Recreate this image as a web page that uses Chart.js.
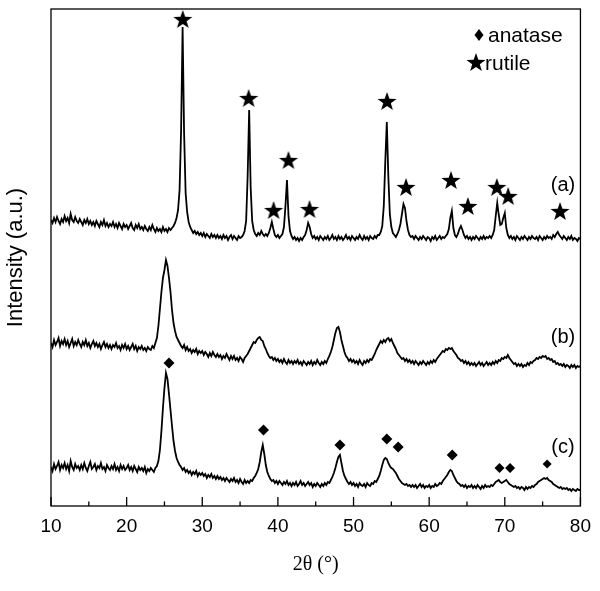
<!DOCTYPE html>
<html>
<head>
<meta charset="utf-8">
<script src="https://cdn.jsdelivr.net/npm/chart.js@4.4.0/dist/chart.umd.min.js"></script>
<style>
  body { margin: 0; background: #fff; }
  #xrd { display: block; }
</style>
</head>
<body>
<canvas id="xrd" width="600" height="591"></canvas>
<script>
// 2-theta grid, 10..80 deg in 0.2 deg steps
const twoTheta = Array.from({ length: 351 }, (_, i) => Math.round((10 + i * 0.2) * 10) / 10);

// intensities (a.u.), already stacked
const patternA = [
  286, 283, 288, 284, 289, 285, 282, 287, 284, 290,
  285, 288, 283, 292, 286, 284, 289, 285, 283, 287,
  284, 281, 286, 283, 287, 282, 285, 281, 284, 280,
  285, 282, 279, 284, 281, 286, 280, 283, 279, 282,
  280, 284, 279, 282, 278, 283, 280, 277, 282, 279,
  281, 277, 280, 283, 278, 276, 281, 278, 282, 277,
  279, 276, 280, 277, 275, 279, 276, 281, 277, 274,
  278, 275, 277, 274, 279, 275, 277, 274, 278, 276,
  278, 280, 283, 288, 296, 316, 375, 479, 372, 313,
  294, 284, 279, 276, 273, 275, 272, 274, 271, 273,
  270, 273, 269, 272, 270, 268, 272, 269, 271, 268,
  271, 268, 270, 267, 271, 268, 270, 266, 269, 271,
  267, 270, 268, 266, 270, 268, 269, 271, 275, 285,
  330, 396, 318, 285, 276, 272, 270, 273, 271, 275,
  272, 270, 272, 270, 273, 278, 284, 277, 271, 269,
  271, 268, 270, 272, 279, 300, 326, 290, 275, 270,
  267, 269, 266, 268, 265, 268, 266, 269, 271, 276,
  283, 279, 272, 268, 270, 267, 269, 266, 270, 268,
  266, 269, 267, 270, 266, 268, 271, 267, 269, 266,
  270, 267, 269, 266, 268, 271, 267, 269, 266, 270,
  268, 266, 269, 267, 271, 268, 266, 270, 267, 269,
  266, 270, 268, 267, 270, 268, 271, 271, 274, 280,
  300, 345, 384, 330, 292, 279, 273, 271, 269, 272,
  276, 282, 292, 302, 298, 285, 276, 271, 269, 270,
  267, 270, 268, 266, 269, 267, 270, 268, 266, 269,
  268, 265, 269, 267, 270, 266, 268, 270, 267, 269,
  268, 270, 272, 277, 288, 295, 278, 271, 269, 272,
  277, 280, 276, 271, 268, 270, 267, 269, 266, 269,
  267, 270, 268, 266, 269, 267, 270, 267, 269, 268,
  270, 268, 271, 276, 290, 303, 291, 281, 282, 288,
  293, 278, 271, 268, 270, 267, 269, 266, 270, 268,
  266, 269, 267, 270, 268, 266, 269, 267, 270, 268,
  267, 269, 266, 270, 268, 266, 269, 267, 270, 268,
  269, 267, 271, 269, 272, 274, 271, 269, 267, 270,
  268, 266, 269, 267, 270, 266, 268, 267, 265, 268,
  267
];

const patternB = [
  163, 159, 166, 161, 164, 168, 160, 165, 162, 167,
  161, 165, 159, 163, 167, 160, 164, 161, 166, 162,
  159, 164, 161, 166, 160, 163, 158, 162, 165, 160,
  163, 159, 162, 157, 161, 164, 159, 162, 158, 161,
  157, 161, 159, 163, 158, 160, 156, 161, 158, 162,
  157, 160, 156, 159, 162, 157, 160, 155, 159, 157,
  160, 156, 158, 155, 159, 157, 156, 160, 158, 163,
  168, 180, 197, 214, 228, 236, 246, 240, 228, 214,
  196, 183, 175, 169, 166, 163, 160, 158, 161, 156,
  159, 155, 157, 153, 156, 154, 157, 152, 155, 153,
  155, 151, 154, 152, 149, 153, 150, 154, 151, 149,
  152, 149, 151, 147, 150, 148, 152, 149, 146, 150,
  147, 150, 146, 148, 145, 149, 147, 144, 148, 150,
  152, 155, 158, 161, 164, 163, 166, 168, 169, 166,
  165, 160, 157, 153, 150, 148, 149, 146, 148, 145,
  147, 144, 146, 143, 147, 144, 142, 146, 143, 145,
  142, 145, 143, 146, 142, 144, 141, 145, 143, 141,
  144, 142, 145, 141, 144, 142, 146, 143, 141, 144,
  142, 145, 143, 147, 150, 154, 159, 166, 173, 178,
  179, 174, 166, 160, 154, 150, 148, 145, 147, 144,
  146, 143, 145, 142, 146, 143, 141, 145, 143, 146,
  144, 147, 146, 149, 152, 156, 159, 162, 165, 163,
  166, 164, 167, 168, 165, 167, 163, 160, 157, 153,
  151, 149, 147, 148, 145, 147, 144, 146, 143, 145,
  142, 145, 143, 141, 144, 142, 145, 143, 141, 144,
  142, 145, 143, 146, 144, 147, 149, 151, 153, 155,
  154, 157, 156, 158, 157, 158, 155, 153, 151, 148,
  147, 145, 146, 143, 145, 142, 144, 141, 143, 141,
  143, 140, 142, 144, 141, 143, 140, 142, 144, 141,
  143, 141, 144, 142, 145, 143, 146, 145, 148, 147,
  149, 148, 151, 148, 146, 144, 142, 143, 140, 142,
  140, 142, 139, 141, 140, 143, 141, 144, 143, 145,
  146, 148, 147, 149, 148, 150, 149, 150, 147, 148,
  146, 147, 144, 145, 142, 143, 141, 142, 140, 142,
  139, 141, 140, 138, 141, 139, 141, 138, 140, 139,
  140
];

const patternC = [
  39, 35, 42, 37, 40, 44, 36, 41, 38, 43,
  37, 41, 35, 45, 39, 36, 42, 38, 40, 36,
  41, 37, 43, 38, 35, 40, 44, 37, 39, 42,
  36, 40, 38, 43, 37, 39, 35, 41, 38, 36,
  40, 37, 42, 36, 39, 35, 41, 37, 40, 36,
  38, 41, 36, 39, 35, 40, 37, 34, 39, 36,
  38, 35, 39, 33, 37, 35, 38, 36, 34, 38,
  40, 45, 56, 75, 98, 118, 133, 127, 112, 96,
  80, 65, 55, 48, 44, 41, 39, 36, 38, 34,
  36, 33, 35, 31, 34, 32, 35, 30, 33, 31,
  33, 30, 32, 28, 31, 29, 32, 28, 30, 27,
  30, 27, 29, 26, 28, 25, 28, 26, 24, 27,
  25, 28, 24, 26, 23, 27, 24, 22, 26, 23,
  25, 23, 26, 25, 28, 30, 33, 37, 44, 54,
  61, 52, 41, 34, 30, 27, 25, 26, 23, 25,
  22, 25, 23, 21, 24, 22, 25, 21, 23, 20,
  23, 21, 24, 20, 22, 25, 21, 23, 20, 22,
  24, 21, 23, 19, 22, 20, 23, 21, 19, 22,
  20, 23, 21, 24, 23, 26, 29, 33, 38, 44,
  49, 51, 43, 35, 30, 27, 24, 22, 24, 21,
  23, 20, 22, 19, 23, 21, 20, 22, 19, 23,
  21, 20, 23, 22, 25, 24, 27, 30, 35, 41,
  46, 48, 47, 43, 40, 38, 37, 35, 33, 30,
  27, 25, 23, 22, 21, 22, 20, 21, 19, 21,
  19, 21, 18, 20, 22, 19, 21, 18, 20, 19,
  21, 18, 20, 19, 22, 20, 21, 23, 22, 25,
  27, 29, 31, 34, 36, 35, 31, 28, 25, 23,
  22, 20, 21, 19, 21, 18, 20, 19, 21, 18,
  20, 18, 21, 19, 17, 20, 18, 21, 19, 20,
  19, 21, 20, 22, 24, 25, 26, 24, 23, 24,
  25, 26, 24, 22, 21, 20, 19, 20, 18, 19,
  17, 19, 18, 16, 19, 17, 19, 18, 20, 19,
  21, 22, 24, 25, 26, 27, 28, 27, 28, 26,
  25, 24, 22, 21, 20, 19, 18, 19, 17, 18,
  17, 18, 16, 17, 15, 17, 16, 15, 17, 16,
  16
];

// phase markers (2theta, height)
const rutileX = [27.42, 36.13, 39.43, 41.4, 44.18, 54.43, 56.94, 62.88, 65.12, 68.95, 70.44, 77.3];
const rutileY = [486, 407, 295, 345, 296, 404, 318, 325, 299, 318, 309, 294];
const anataseX = [25.6, 38.1, 48.2, 54.4, 55.9, 63.05, 69.3, 70.7, 75.6];
const anataseY = [143, 76, 61, 67, 59, 51, 38, 38, 42];

const sampleLabels = ['(a)', '(b)', '(c)'];
const xTicks = [10, 20, 30, 40, 50, 60, 70, 80];

function makeStar(r) {
    const c = document.createElement('canvas');
    c.width = c.height = 2 * r + 2;
    const g = c.getContext('2d');
    g.beginPath();
    for (let k = 0; k < 10; k++) {
        const ang = -Math.PI / 2 + k * Math.PI / 5;
        const rad = k % 2 ? r * 0.4 : r;
        g.lineTo(c.width / 2 + rad * Math.cos(ang), c.height / 2 + rad * Math.sin(ang));
    }
    g.closePath();
    g.fillStyle = '#000';
    g.fill();
    return c;
}
const star = makeStar(10);

function toPoints(xs, ys) {
    return xs.map((x, i) => ({ x: x, y: ys[i] }));
}

const traceStyle = {
    type: 'line',
    borderColor: '#000',
    borderWidth: 1.8,
    pointRadius: 0,
    fill: false,
    tension: 0
};

// frame, inner ticks, legend, sample labels
const decorations = {
    id: 'decorations',
    afterDraw(chart) {
        const { ctx, chartArea: a, scales: { x } } = chart;
        ctx.save();
        ctx.strokeStyle = '#000';
        ctx.lineWidth = 1.3;
        ctx.strokeRect(a.left, a.top, a.right - a.left, a.bottom - a.top);
        for (let v = 10; v <= 80; v += 5) {
            const px = x.getPixelForValue(v);
            const len = v % 10 === 0 ? 9 : 4.5;
            ctx.beginPath();
            ctx.moveTo(px, a.bottom);
            ctx.lineTo(px, a.bottom - len);
            ctx.stroke();
        }
        // legend
        ctx.fillStyle = '#000';
        ctx.beginPath();
        ctx.moveTo(479, 29);
        ctx.lineTo(483.5, 35);
        ctx.lineTo(479, 41);
        ctx.lineTo(474.5, 35);
        ctx.closePath();
        ctx.fill();
        ctx.drawImage(star, 476 - star.width / 2, 63 - star.height / 2);
        ctx.font = '21px "Liberation Sans", Arial, sans-serif';
        ctx.textBaseline = 'middle';
        ctx.textAlign = 'left';
        ctx.fillText('anatase', 488, 36);
        ctx.fillText('rutile', 485, 64);
        // sample labels
        ctx.font = '20px "Liberation Sans", Arial, sans-serif';
        ctx.textAlign = 'center';
        const ys = [185, 337, 447];
        sampleLabels.forEach((t, i) => ctx.fillText(t, 563, ys[i]));
        ctx.restore();
    }
};

new Chart(document.getElementById('xrd'), {
    data: {
        datasets: [
            Object.assign({ label: 'a', data: toPoints(twoTheta, patternA) }, traceStyle),
            Object.assign({ label: 'b', data: toPoints(twoTheta, patternB) }, traceStyle),
            Object.assign({ label: 'c', data: toPoints(twoTheta, patternC) }, traceStyle),
            {
                type: 'scatter',
                label: 'rutile',
                data: toPoints(rutileX, rutileY),
                pointStyle: star
            },
            {
                type: 'scatter',
                label: 'anatase',
                data: toPoints(anataseX, anataseY),
                pointStyle: 'rectRot',
                pointRadius: [5.5, 5.5, 5.5, 5.5, 5.5, 5.5, 5, 5, 4.5],
                backgroundColor: '#000',
                borderWidth: 0
            }
        ]
    },
    options: {
        responsive: false,
        animation: false,
        devicePixelRatio: 1,
        layout: { padding: { top: 9, right: 18, left: 0, bottom: 0 } },
        plugins: {
            legend: { display: false },
            tooltip: { enabled: false }
        },
        scales: {
            x: {
                type: 'linear',
                min: 10,
                max: 80,
                afterFit: s => { s.height = 85; },
                afterBuildTicks: s => { s.ticks = xTicks.map(v => ({ value: v })); },
                grid: { display: false, drawTicks: false },
                border: { display: false },
                ticks: {
                    color: '#000',
                    padding: 9,
                    maxRotation: 0,
                    font: { family: '"Liberation Sans", Arial, sans-serif', size: 19 }
                },
                title: {
                    display: true,
                    text: '2θ (°)',
                    color: '#000',
                    padding: { bottom: 14 },
                    font: { family: '"Liberation Serif", "Times New Roman", serif', size: 20 }
                }
            },
            y: {
                type: 'linear',
                min: 0,
                max: 497,
                afterFit: s => { s.width = 51; },
                grid: { display: false, drawTicks: false },
                border: { display: false },
                ticks: { display: false },
                title: {
                    display: true,
                    text: 'Intensity (a.u.)',
                    color: '#000',
                    padding: { top: 3 },
                    font: { family: '"Liberation Sans", Arial, sans-serif', size: 22 }
                }
            }
        }
    },
    plugins: [decorations]
});
</script>
</body>
</html>
